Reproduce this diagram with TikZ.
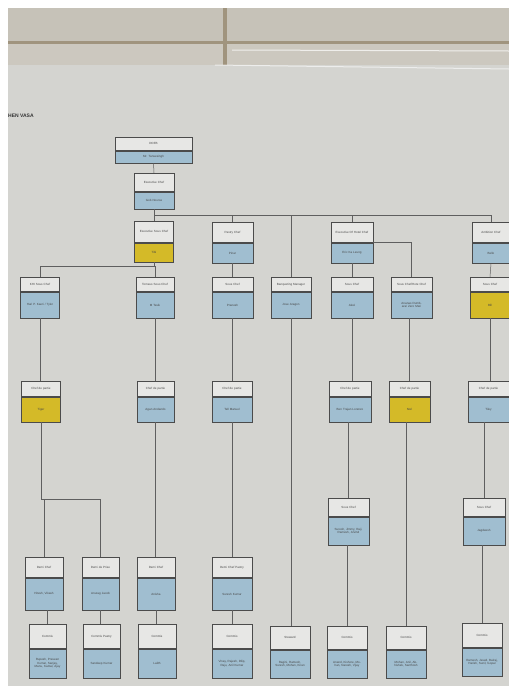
\documentclass[tikz,border=0pt]{standalone}
\usepackage{fontspec}
\setmainfont{Liberation Sans}
\definecolor{paper}{RGB}{212,212,208}
\definecolor{tile}{RGB}{198,194,184}
\definecolor{tile2}{RGB}{204,200,191}
\definecolor{grout}{RGB}{160,148,126}
\definecolor{bluebox}{RGB}{160,190,208}
\definecolor{yellowbox}{RGB}{212,186,40}
\definecolor{boxline}{RGB}{75,75,75}
\definecolor{lineclr}{RGB}{95,95,95}
\definecolor{txt}{RGB}{70,70,70}
\tikzset{
  tp/.style={draw=boxline, fill=paper!55!white, line width=0.7pt, inner xsep=2pt, inner ysep=0.5pt,
    align=center, font=\fontsize{3}{3.6}\selectfont, text=txt},
  conn/.style={draw=lineclr, line width=0.5pt},
}
\newcommand\orgbox[9]{%
  \node[tp, text width=\dimexpr#4pt-4pt\relax, minimum height=#5pt, anchor=north] (#1t) at (#2,#3) {#7};
  \node[tp, fill=#9, text width=\dimexpr#4pt-4pt\relax, minimum height=#6pt, anchor=north] (#1) at (#1t.south) {#8};
}
\begin{document}
\begin{tikzpicture}[x=1pt,y=-1pt]
\useasboundingbox (0,0) rectangle (509,686);
% background
\fill[white] (0,0) rectangle (509,686);
\fill[paper] (8,8) rectangle (509,686);
\fill[tile] (8,8) rectangle (509,42);
\fill[tile2] (8,44) rectangle (509,65);
\fill[grout] (8,41) rectangle (509,44);
\fill[grout] (223,8) rectangle (227,65);
\draw[white, line width=1pt, opacity=0.7] (232,50) -- (509,51);
\draw[white, line width=1pt, opacity=0.6] (215,65) -- (509,69);
% title
\node[font=\fontsize{5}{6}\selectfont\bfseries, text=black!80, anchor=west, inner sep=0pt] (title) at (8,116) {HEN VASA};
% boxes
\orgbox{ceo}{153.5}{137}{77}{13}{12}{DOFB}{Mr. Tarwesingh}{bluebox}
\orgbox{exec}{154}{173}{40}{18}{17}{Executive Chef}{Gob Nourse}{bluebox}
\orgbox{esc}{154}{221}{39}{21}{19}{Executive Sous Chef}{Tibi}{yellowbox}
\orgbox{pastry}{232.5}{222}{41}{20}{20}{Pastry Chef}{Pinar}{bluebox}
\orgbox{ehc}{352}{222}{42}{20}{20}{Executive Of Hotel Chef}{Eric Ka Leung}{bluebox}
\orgbox{amb}{491}{222}{38}{20}{20}{Ambition Chef}{Bello}{bluebox}
% level 4
\orgbox{khi}{40}{277}{39}{14}{26}{KHI Sous Chef}{Hari P. Kaeri / Tyler}{bluebox}
\orgbox{tsc}{155}{277}{38}{14}{26}{Tomeus Sous Chef}{M Tavik}{bluebox}
\orgbox{psc}{232.5}{277}{41}{14}{26}{Sous Chef}{Pranesh}{bluebox}
\orgbox{bm}{291}{277}{40}{14}{26}{Banqueting Manager}{Jose Aragon}{bluebox}
\orgbox{hsc}{352}{277}{42}{14}{26}{Sous Chef}{Alexi}{bluebox}
\orgbox{shc}{411.5}{277}{41}{14}{26}{Sous Chef/Hote Chef}{Ananas Dumbara/ Zero Mari}{bluebox}
\orgbox{rsc}{490}{277}{39}{14}{26}{Sous Chef}{Bill}{yellowbox}
% level 5
\orgbox{cdpa}{41}{381}{39}{15}{25}{Chef de partie}{Tiger}{yellowbox}
\orgbox{cdpb}{155.5}{381}{37}{15}{25}{Chef de partie}{Agan Andando}{bluebox}
\orgbox{cdpc}{232}{381}{40}{15}{25}{Chef de partie}{Tell Manuel}{bluebox}
\orgbox{cdpd}{350}{381}{42}{15}{25}{Chef de partie}{Ben Trajan Lorenzo}{bluebox}
\orgbox{cdpe}{409.5}{381}{41}{15}{25}{Chef de partie}{Nori}{yellowbox}
\orgbox{cdpf}{488.5}{381}{41}{15}{25}{Chef de partie}{Tiley}{bluebox}
% level 6
\orgbox{ssa}{348.5}{498}{41}{18}{28}{Sous Chef}{Suresh, Jimmy, Raji, Ramesh, Arvind}{bluebox}
\orgbox{ssb}{484}{498}{42}{18}{28}{Sous Chef}{Jagdeesh}{bluebox}
% level 7
\orgbox{dca}{44}{557}{38}{20}{32}{Demi Chef}{Hitesh, Vikash}{bluebox}
\orgbox{dcb}{100.5}{557}{37}{20}{32}{Demi de Prise}{Anurag Jacob}{bluebox}
\orgbox{dcc}{156}{557}{38}{20}{32}{Demi Chef}{Anisha}{bluebox}
\orgbox{dcd}{232}{557}{40}{20}{32}{Demi Chef Pastry}{Suresh Kumar}{bluebox}
% level 8
\orgbox{ca}{47.5}{624}{37}{24}{29}{Commis}{Rupesh, Praveen Kumar, Sanjay, Manu, Kamal, Ajay}{bluebox}
\orgbox{cb}{101.5}{624}{37}{24}{29}{Commis Pastry}{Sandeep Kumar}{bluebox}
\orgbox{cc}{157}{624}{38}{24}{29}{Commis}{Lalith}{bluebox}
\orgbox{cd}{232}{624}{40}{24}{29}{Commis}{Vinay, Rajesh, Dilip, Raju, Anil Kumar}{bluebox}
\orgbox{ce}{290}{626}{40}{23}{28}{Steward}{Ragini, Ramesh, Suresh, Mohan, Kiran}{bluebox}
\orgbox{cf}{347}{626}{40}{23}{28}{Commis}{Anand, Kishore, Mohan, Naresh, Vijay}{bluebox}
\orgbox{cg}{406}{626}{40}{23}{28}{Commis}{Mohan, Anil, Abhishek, Santhosh}{bluebox}
\orgbox{ch}{482}{623}{40}{24}{28}{Commis}{Ramesh, Javed, Balraj, Harish, Sunil, Gopal}{bluebox}
% connectors
\draw[conn] (ceo.south) -- (exect.north);
\draw[conn] (exec.south) -- (esct.north);
\path (exec.south) ++(0,6) coordinate (bus);
\draw[conn] (bus) -| (pastryt.north);
\draw[conn] (bus) -| (bmt.north);
\draw[conn] (bus) -| (ehct.north);
\draw[conn] (bus) -| (ambt.north);
\path (esc.south) ++(0,4) coordinate (escb);
\draw[conn] (esc.south) -- (escb) -| (khit.north);
\draw[conn] (escb) -| (tsct.north);
\draw[conn] (ehct.south east) -| (shct.north);
\draw[conn] (ehc.south) -- (hsct.north);
\draw[conn] (pastry.south) -- (psct.north);
\draw[conn] (amb.south) -- (rsct.north);
\draw[conn] (khi.south) -- (khi.south |- cdpat.north);
\draw[conn] (tsc.south) -- (tsc.south |- cdpbt.north);
\draw[conn] (psc.south) -- (psc.south |- cdpct.north);
\draw[conn] (bm.south) -- (bm.south |- cet.north);
\draw[conn] (hsc.south) -- (hsc.south |- cdpdt.north);
\draw[conn] (cdpet.north |- shc.south) -- (cdpet.north);
\draw[conn] (rsc.south) -- (rsc.south |- cdpft.north);
\path (cdpa.south) ++(0,77) coordinate (cdpab);
\draw[conn] (cdpa.south) -- (cdpab) -| (dcat.north);
\draw[conn] (cdpab) -| (dcbt.north);
\draw[conn] (cdpb.south) -- (cdpb.south |- dcct.north);
\draw[conn] (cdpc.south) -- (cdpc.south |- dcdt.north);
\draw[conn] (ssat.north |- cdpd.south) -- (ssat.north);
\draw[conn] (cgt.north |- cdpe.south) -- (cgt.north);
\draw[conn] (ssbt.north |- cdpf.south) -- (ssbt.north);
\draw[conn] (cat.north |- dca.south) -- (cat.north);
\draw[conn] (dcb.south) -- (dcb.south |- cbt.north);
\draw[conn] (dcc.south) -- (dcc.south |- cct.north);
\draw[conn] (dcd.south) -- (dcd.south |- cdt.north);
\draw[conn] (cft.north |- ssa.south) -- (cft.north);
\draw[conn] (cht.north |- ssb.south) -- (cht.north);
\end{tikzpicture}
\end{document}
